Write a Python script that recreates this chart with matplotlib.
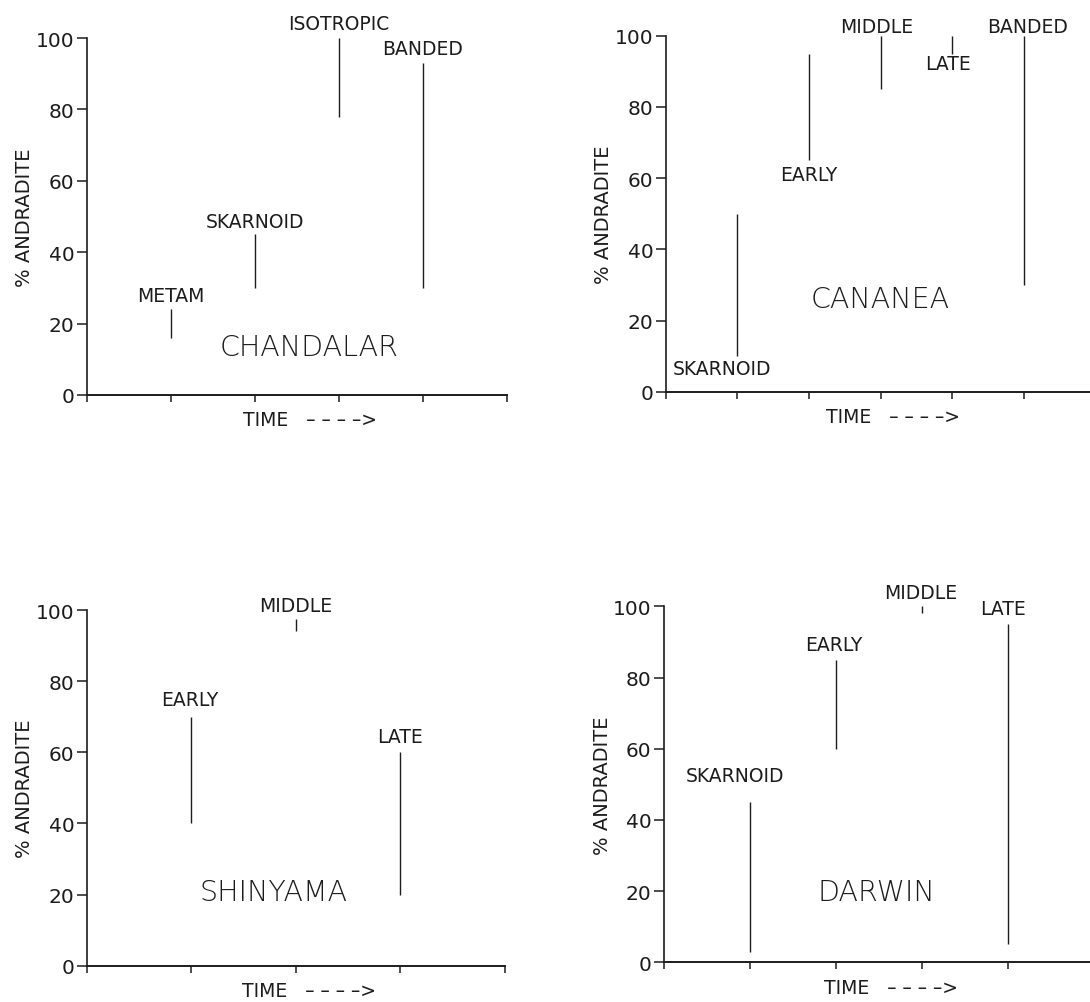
import numpy as np
import matplotlib
matplotlib.use("Agg")
import matplotlib.pyplot as plt

# data
chand_stages = ["METAM", "SKARNOID", "ISOTROPIC", "BANDED"]
chand_low = [16, 30, 78, 30]
chand_high = [24, 45, 100, 93]

canan_stages = ["SKARNOID", "EARLY", "MIDDLE", "LATE", "BANDED"]
canan_low = [10, 65, 85, 95, 30]
canan_high = [50, 95, 100, 100, 100]

shin_stages = ["EARLY", "MIDDLE", "LATE"]
shin_low = [40, 94, 20]
shin_high = [70, 97.5, 60]

darw_stages = ["SKARNOID", "EARLY", "MIDDLE", "LATE"]
darw_low = [3, 60, 98, 5]
darw_high = [45, 85, 100, 95]

yticks = [0, 20, 40, 60, 80, 100]

# layout: axes rect, x range, label spots, name spot, TIME spot
panels = [
    dict(name="CHANDALAR", stages=chand_stages, low=chand_low, high=chand_high,
         rect=[0.0798, 0.6052, 0.3853, 0.3559], xmax=5,
         lab=[(1, 28), (2, 48.6), (3, 104), (4, 97.2)],
         title=(2.64, 13.4), time=2.65),
    dict(name="CANANEA", stages=canan_stages, low=canan_low, high=canan_high,
         rect=[0.611, 0.6082, 0.3936, 0.3552], xmax=6,
         lab=[(0.79, 6.7), (2.0, 61), (2.95, 102.6), (3.95, 92.3), (5.06, 102.6)],
         title=(3.0, 26.2), time=3.17),
    dict(name="SHINYAMA", stages=shin_stages, low=shin_low, high=shin_high,
         rect=[0.0798, 0.0362, 0.3835, 0.3546], xmax=4,
         lab=[(0.98, 74.8), (2.0, 101.2), (3.0, 64.4)],
         title=(1.79, 20.6), time=2.12),
    dict(name="DARWIN", stages=darw_stages, low=darw_low, high=darw_high,
         rect=[0.6092, 0.0396, 0.3945, 0.3549], xmax=5,
         lab=[(0.82, 52.4), (1.97, 89.4), (2.98, 103.9), (3.94, 99.3)],
         title=(2.47, 19.7), time=2.64),
]

ink = "#1c1c1c"
fig = plt.figure(figsize=(10.9, 10.03), dpi=100)

for p in panels:
    ax = fig.add_axes(p["rect"])
    xs = np.arange(1, len(p["stages"]) + 1)
    ax.vlines(xs, p["low"], p["high"], color=ink, lw=1.0)
    for s, (lx, ly) in zip(p["stages"], p["lab"]):
        ax.text(lx, ly, s, ha="center", va="center", fontsize=13.5,
                color=ink, clip_on=False)
    ax.text(p["title"][0], p["title"][1], p["name"], ha="center", va="center",
            fontsize=20.5, color=ink, fontweight="light")
    ax.text(p["time"], -7, "TIME   \u2013 \u2013 \u2013 \u2013>", ha="center",
            va="center", fontsize=13.5, color=ink, clip_on=False)

    ax.set_xlim(0, p["xmax"])
    ax.set_ylim(0, 100)
    ax.set_xticks(np.arange(0, p["xmax"] + 1))
    ax.set_xticklabels([])
    ax.set_yticks(yticks)
    ax.tick_params(axis="y", direction="out", length=7, width=1.1,
                   labelsize=14.5, pad=2, colors=ink)
    ax.tick_params(axis="x", direction="out", length=5, width=1.1, colors=ink)
    ax.spines["top"].set_visible(False)
    ax.spines["right"].set_visible(False)
    ax.spines["left"].set_linewidth(1.2)
    ax.spines["bottom"].set_linewidth(1.4)
    ax.spines["left"].set_color(ink)
    ax.spines["bottom"].set_color(ink)
    ax.set_ylabel("% ANDRADITE", fontsize=14, color=ink, labelpad=1)

fig.savefig("out.png", dpi=100)
